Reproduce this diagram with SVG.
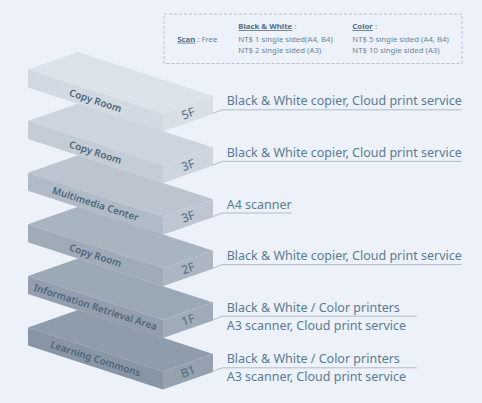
<svg xmlns="http://www.w3.org/2000/svg" width="482" height="403" viewBox="0 0 482 403">
<style>
.bg{fill:#edf1f9}
.hdr{font-family:"Noto Sans","Open Sans",sans-serif;font-size:7.8px;fill:#6c8599}
.hb{font-weight:bold;fill:#4f6d84;text-decoration:underline}
.room{font-family:"Noto Sans","Open Sans",sans-serif;font-size:9.8px;font-weight:600;letter-spacing:0.05px;fill:#4d6677;text-anchor:middle}
.fl{font-family:"Noto Sans","Open Sans",sans-serif;font-size:12px;fill:#4f6b80;text-anchor:middle}
.lbl{font-family:"Noto Sans","Open Sans",sans-serif;font-size:12.5px;fill:#5b7b91}
.conn{fill:none;stroke:#aebdca;stroke-width:1}
</style>
<rect class="bg" x="0" y="0" width="482" height="403"/>
<g id="legend">
<rect x="164" y="14" width="298" height="49.5" fill="none" stroke="#aab6c3" stroke-width="0.8" stroke-dasharray="3,2"/>
<text class="hdr" x="177.3" y="41.7"><tspan class="hb">Scan</tspan> : Free</text>
<text class="hdr" x="238.3" y="29"><tspan class="hb">Black &amp; White</tspan> :</text>
<text class="hdr" x="238.3" y="41.7">NT$ 1 single sided(A4, B4)</text>
<text class="hdr" x="238.3" y="53.3">NT$ 2 single sided (A3)</text>
<text class="hdr" x="352.3" y="29"><tspan class="hb">Color</tspan> :</text>
<text class="hdr" x="352.3" y="41.7">NT$ 5 single sided (A4, B4)</text>
<text class="hdr" x="352.3" y="53.3">NT$ 10 single sided (A3)</text>
</g>
<g id="floor-B1" transform="translate(0,258)">
<polygon points="78,52 213,96 163,113.5 28,69.5" fill="#8f9cab"/>
<polygon points="28,69.5 163,113.5 163,131.5 28,87.5" fill="#8895a5"/>
<polygon points="163,113.5 213,96 213,114 163,131.5" fill="#95a1af"/>
<text class="room" transform="translate(95.5,100.5) rotate(18)" y="3.6">Learning Commons</text>
<text class="fl" transform="translate(188,113.5) rotate(-19.3)" y="4.2">B1</text>
</g>
<g id="floor-1F" transform="translate(0,206.4)">
<polygon points="78,52 213,96 163,113.5 28,69.5" fill="#9ba8b6"/>
<polygon points="28,69.5 163,113.5 163,131.5 28,87.5" fill="#939fae"/>
<polygon points="163,113.5 213,96 213,114 163,131.5" fill="#9fabb8"/>
<text class="room" transform="translate(95.5,100.5) rotate(18)" y="3.6">Information Retrieval Area</text>
<text class="fl" transform="translate(188,113.5) rotate(-19.3)" y="4.2">1F</text>
</g>
<g id="floor-2F" transform="translate(0,154.8)">
<polygon points="78,52 213,96 163,113.5 28,69.5" fill="#a9b4c1"/>
<polygon points="28,69.5 163,113.5 163,131.5 28,87.5" fill="#a0abb8"/>
<polygon points="163,113.5 213,96 213,114 163,131.5" fill="#abb6c2"/>
<text class="room" transform="translate(95.5,100.5) rotate(18)" y="3.6">Copy Room</text>
<text class="fl" transform="translate(188,113.5) rotate(-19.3)" y="4.2">2F</text>
</g>
<g id="floor-3F-media" transform="translate(0,103.2)">
<polygon points="78,52 213,96 163,113.5 28,69.5" fill="#bbc4cf"/>
<polygon points="28,69.5 163,113.5 163,131.5 28,87.5" fill="#b1bbc7"/>
<polygon points="163,113.5 213,96 213,114 163,131.5" fill="#bdc6d1"/>
<text class="room" transform="translate(95.5,100.5) rotate(18)" y="3.6">Multimedia Center</text>
<text class="fl" transform="translate(188,113.5) rotate(-19.3)" y="4.2">3F</text>
</g>
<g id="floor-3F-copy" transform="translate(0,51.6)">
<polygon points="78,52 213,96 163,113.5 28,69.5" fill="#cdd4dd"/>
<polygon points="28,69.5 163,113.5 163,131.5 28,87.5" fill="#c4ccd6"/>
<polygon points="163,113.5 213,96 213,114 163,131.5" fill="#ced5de"/>
<text class="room" transform="translate(95.5,100.5) rotate(18)" y="3.6">Copy Room</text>
<text class="fl" transform="translate(188,113.5) rotate(-19.3)" y="4.2">3F</text>
</g>
<g id="floor-5F">
<polygon points="78,52 213,96 163,113.5 28,69.5" fill="#dce2ea"/>
<polygon points="28,69.5 163,113.5 163,131.5 28,87.5" fill="#d2d9e2"/>
<polygon points="163,113.5 213,96 213,114 163,131.5" fill="#d9dfe7"/>
<text class="room" transform="translate(95.5,100.5) rotate(18)" y="3.6">Copy Room</text>
<text class="fl" transform="translate(188,113.5) rotate(-19.3)" y="4.2">5F</text>
</g>
<g id="connectors">
<path class="conn" d="M213,113.5 L222,109.8 H461.7"/>
<path class="conn" d="M213,165.1 L222,161.4 H461.7"/>
<path class="conn" d="M213,216.7 L222,213 H291.7"/>
<path class="conn" d="M213,268.3 L222,264.6 H461.7"/>
<path class="conn" d="M213,319.9 L222,316.2 H416.7"/>
<path class="conn" d="M213,371.5 L222,367.8 H416.7"/>
</g>
<g id="labels">
<text class="lbl" x="226.7" y="105.3">Black &amp; White copier, Cloud print service</text>
<text class="lbl" x="226.7" y="156.9">Black &amp; White copier, Cloud print service</text>
<text class="lbl" x="226.7" y="208.5">A4 scanner</text>
<text class="lbl" x="226.7" y="260.1">Black &amp; White copier, Cloud print service</text>
<text class="lbl" x="226.7" y="311.7">Black &amp; White / Color printers</text>
<text class="lbl" x="226.7" y="329.5">A3 scanner, Cloud print service</text>
<text class="lbl" x="226.7" y="363.3">Black &amp; White / Color printers</text>
<text class="lbl" x="226.7" y="381.1">A3 scanner, Cloud print service</text>
</g>
</svg>
